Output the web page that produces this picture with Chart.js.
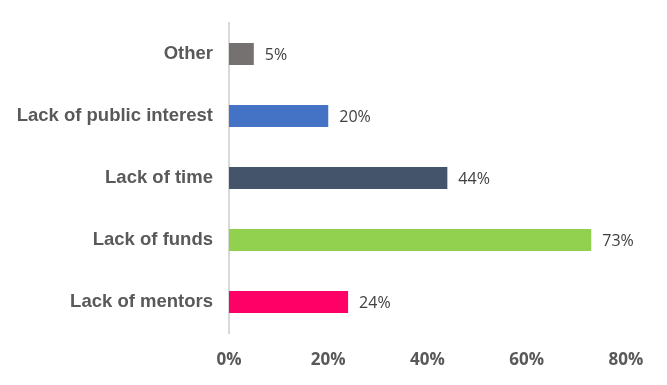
<!DOCTYPE html>
<html>
<head>
<meta charset="utf-8">
<script src="https://cdn.jsdelivr.net/npm/chart.js@4"></script>
<style>
  html, body { margin: 0; padding: 0; background: #fff; }
  .container-canvas { width: 667px; height: 385px; }
</style>
</head>
<body>
<div class="container-canvas"><canvas id="myChart"></canvas></div>
<script>
const categories = ['Other', 'Lack of public interest', 'Lack of time', 'Lack of funds', 'Lack of mentors'];
const values = [5, 20, 44, 73, 24];
const barColors = ['#767171', '#4472C4', '#44546A', '#92D050', '#FF0066'];
const tickValues = [0, 20, 40, 60, 80];

// value labels at the end of each bar
const valueLabels = {
	id: 'valueLabels',
	afterDatasetsDraw(chart) {
		const ctx = chart.ctx;
		const meta = chart.getDatasetMeta(0);
		ctx.save();
		ctx.font = '16px "Open Sans", sans-serif';
		ctx.fillStyle = '#404040';
		ctx.textAlign = 'left';
		ctx.textBaseline = 'middle';
		meta.data.forEach((bar, i) => {
			ctx.fillText(values[i] + '%', bar.x + 11, bar.y + 1);
		});
		ctx.restore();
	}
};

const ctx = document.getElementById('myChart');
const myChart = new Chart(ctx, {
	type: 'bar',
	data: {
		labels: categories,
		datasets: [{
			data: values,
			backgroundColor: barColors,
			borderWidth: 0,
			barPercentage: 0.355,
			categoryPercentage: 1
		}]
	},
	options: {
		indexAxis: 'y',
		responsive: true,
		maintainAspectRatio: false,
		animation: false,
		layout: { padding: { top: 23, right: 41, left: 0, bottom: 0 } },
		plugins: {
			legend: { display: false },
			tooltip: { enabled: false }
		},
		scales: {
			x: {
				min: 0,
				max: 80,
				afterBuildTicks: scale => { scale.ticks = tickValues.map(v => ({ value: v })); },
				afterFit: scale => {
					scale.height = 52;
					scale.paddingLeft = 0;
					scale.paddingRight = 0;
				},
				grid: { display: false, drawTicks: false },
				border: { display: false },
				ticks: {
					padding: 17,
					color: '#595959',
					font: { family: '"Open Sans", sans-serif', size: 17, weight: 'bold' },
					callback: v => v + '%'
				}
			},
			y: {
				afterFit: scale => {
					scale.width = 229;
					scale.paddingTop = 0;
					scale.paddingBottom = 0;
				},
				grid: { display: false, drawTicks: false },
				border: { display: true, color: '#d9d9d9', width: 2 },
				ticks: {
					padding: 16,
					color: '#595959',
					font: { family: '"Liberation Sans", Arial, sans-serif', size: 18.5, weight: 'bold' }
				}
			}
		}
	},
	plugins: [valueLabels]
});
</script>
</body>
</html>
